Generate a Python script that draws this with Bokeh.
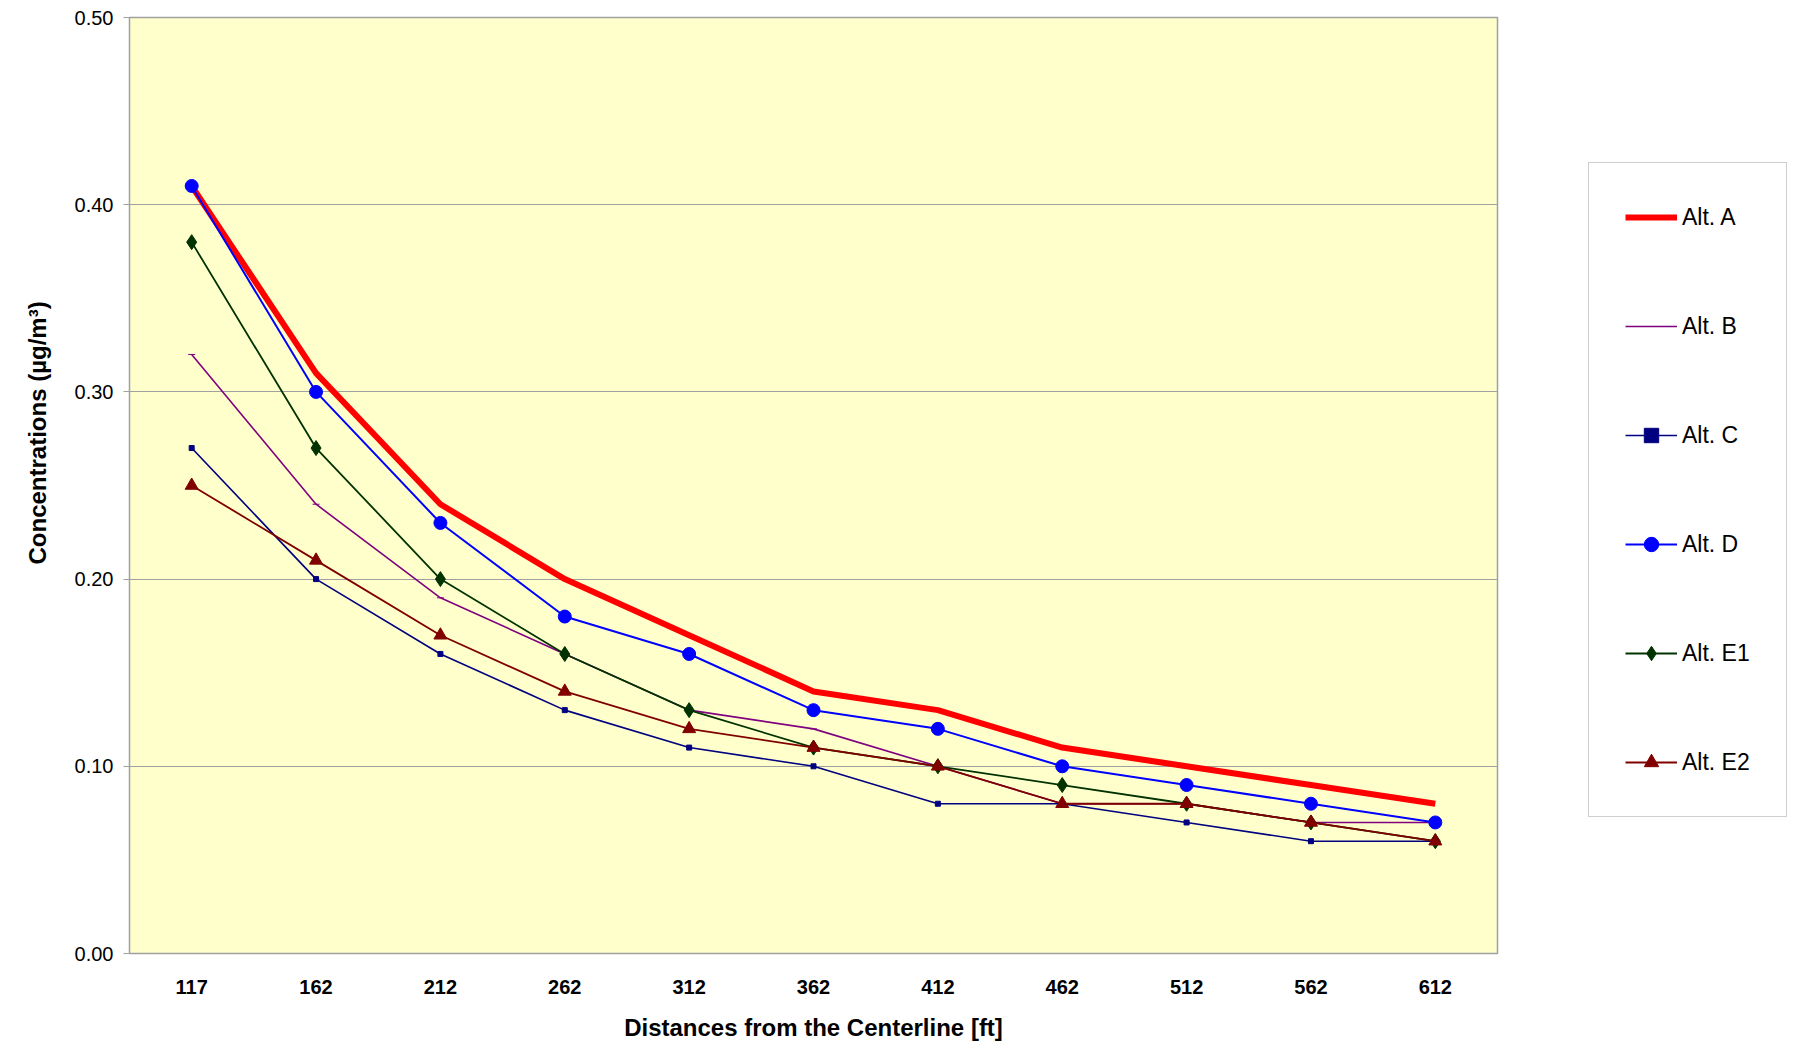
from bokeh.plotting import figure
from bokeh.models import Legend, LegendItem, NumeralTickFormatter, FactorRange, Title
from bokeh.embed import file_html
from bokeh.resources import INLINE

distances = ["117", "162", "212", "262", "312", "362", "412", "462", "512", "562", "612"]
alt_a = [0.41, 0.31, 0.24, 0.20, 0.17, 0.14, 0.13, 0.11, 0.10, 0.09, 0.08]
alt_b = [0.32, 0.24, 0.19, 0.16, 0.13, 0.12, 0.10, 0.08, 0.08, 0.07, 0.07]
alt_c = [0.27, 0.20, 0.16, 0.13, 0.11, 0.10, 0.08, 0.08, 0.07, 0.06, 0.06]
alt_d = [0.41, 0.30, 0.23, 0.18, 0.16, 0.13, 0.12, 0.10, 0.09, 0.08, 0.07]
alt_e1 = [0.38, 0.27, 0.20, 0.16, 0.13, 0.11, 0.10, 0.09, 0.08, 0.07, 0.06]
alt_e2 = [0.25, 0.21, 0.17, 0.14, 0.12, 0.11, 0.10, 0.08, 0.08, 0.07, 0.06]
y_ticks = [0.0, 0.1, 0.2, 0.3, 0.4, 0.5]

FONT = "Liberation Sans"

p = figure(
    x_range=FactorRange(*distances, range_padding=0),
    y_range=(0, 0.5),
    frame_width=1368, frame_height=936,
    min_border_left=129, min_border_top=17, min_border_right=320, min_border_bottom=90,
    output_backend="svg", toolbar_location=None,
    background_fill_color="#FFFFCC", border_fill_color="white",
    outline_line_color="#A0A0A0", outline_line_width=1.5,
)

series = [
    ("Alt. A", alt_a, "#FF0000", 6.0, None, 0),
    ("Alt. B", alt_b, "#800080", 1.6, "dash", 7),
    ("Alt. C", alt_c, "#000080", 1.6, "square", 5),
    ("Alt. D", alt_d, "#0000FF", 2.0, "circle", 13),
    ("Alt. E1", alt_e1, "#003300", 1.8, "diamond", 15),
    ("Alt. E2", alt_e2, "#800000", 1.8, "triangle", 13),
]

items = []
for label, vals, color, lw, marker, size in series:
    rs = [p.line(distances, vals, line_color=color, line_width=lw)]
    if marker:
        rs.append(p.scatter(distances, vals, marker=marker, size=size,
                            fill_color=color, line_color=color, line_width=1))
    items.append(LegendItem(label=label, renderers=rs))

legend = Legend(
    items=items, location=(91, 136), margin=0,
    glyph_width=52, glyph_height=36, spacing=73, padding=36,
    label_standoff=5, label_text_font=FONT, label_text_font_size="23px",
    label_text_color="black",
    border_line_color="#A0A0A0", border_line_width=1.5,
    background_fill_color="white", background_fill_alpha=1,
)
p.add_layout(legend, "right")

ytitle = Title(text="Concentrations (µg/m³)", align="left", offset=389,
               text_font=FONT, text_font_size="24px", text_font_style="bold",
               text_color="black", standoff=42)
p.add_layout(ytitle, "left")

p.xgrid.grid_line_color = None
p.ygrid.grid_line_color = "#A0A0A0"
p.ygrid.grid_line_width = 1

p.yaxis.ticker = y_ticks
p.yaxis.formatter = NumeralTickFormatter(format="0.00")
p.yaxis.major_label_text_font = FONT
p.yaxis.major_label_text_font_size = "20px"
p.yaxis.major_label_text_color = "black"
p.yaxis.major_tick_out = 6
p.yaxis.major_tick_in = 0
p.yaxis.minor_tick_line_color = None
p.yaxis.major_tick_line_color = "#A0A0A0"
p.yaxis.axis_line_color = "#A0A0A0"
p.yaxis.major_label_standoff = 10

p.xaxis.axis_label = "Distances from the Centerline [ft]"
p.xaxis.axis_label_text_font = FONT
p.xaxis.axis_label_text_font_size = "24px"
p.xaxis.axis_label_text_font_style = "bold"
p.xaxis.axis_label_text_color = "black"
p.xaxis.axis_label_standoff = 17
p.xaxis.major_label_text_font = FONT
p.xaxis.major_label_text_font_size = "20px"
p.xaxis.major_label_text_font_style = "bold"
p.xaxis.major_label_text_color = "black"
p.xaxis.major_tick_line_color = None
p.xaxis.major_label_standoff = 20
p.xaxis.axis_line_color = "#A0A0A0"

open("out.html", "w").write(file_html(p, INLINE))
